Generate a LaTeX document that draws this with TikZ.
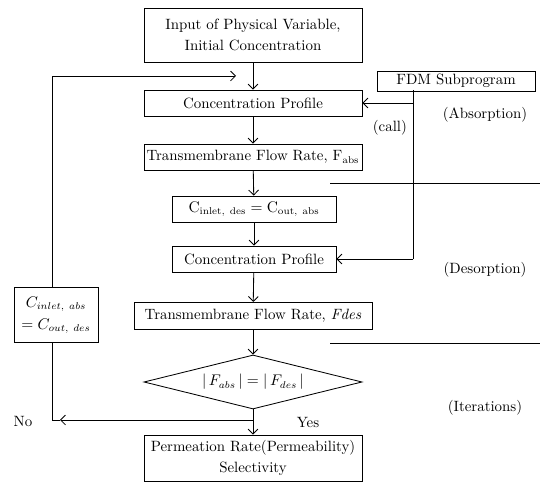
\documentclass[tikz,border=0pt]{standalone}
\usetikzlibrary{shapes.geometric, arrows.meta}
\tikzset{
    procbox/.style={draw, line width=0.6pt, align=center, inner sep=1pt},
    flow/.style={line width=0.6pt, -{Straight Barb[length=3.5pt, width=7pt]}},
    every node/.append style={font=\fontsize{10.6}{12.5}\selectfont},
}
\begin{document}
\begin{tikzpicture}[x=0.025cm, y=-0.025cm, line width=0.6pt]
    \useasboundingbox (0,0) rectangle (540,490);
    % Main column
    \node[procbox, minimum width=5.45cm, minimum height=1.35cm] (input) at (253,35) {Input of Physical Variable,\\[3pt] Initial Concentration};
    \node[procbox, minimum width=5.45cm, minimum height=0.65cm] (profabs) at (253,103) {Concentration Profile};
    \node[procbox, minimum width=5.45cm, minimum height=0.65cm] (flowabs) at (253,157) {Transmembrane Flow Rate, F$_{\mathrm{abs}}$};
    \node[procbox, minimum width=4.1cm, minimum height=0.65cm] (inletdes) at (254,209) {$\mathrm{C}_{\mathrm{inlet,\ des}}=\mathrm{C}_{\mathrm{out,\ abs}}$};
    \node[procbox, minimum width=4.1cm, minimum height=0.65cm] (profdes) at (254,259) {Concentration Profile};
    \node[procbox, minimum width=5.95cm, minimum height=0.68cm] (flowdes) at (253,316) {Transmembrane Flow Rate, \textit{Fdes}};
    \node[draw, diamond, aspect=4, inner sep=0pt, minimum width=5.45cm, minimum height=1.35cm] (check) at (253,382) {$|\,F_{abs}\,| = |\,F_{des}\,|$};
    \node[procbox, minimum width=5.45cm, minimum height=1.15cm] (perm) at (253,458) {Permeation Rate(Permeability)\\[3pt] Selectivity};

    % Subprogram and loop box
    \node[procbox, minimum width=3.95cm, minimum height=0.5cm] (fdm) at (456,81) {FDM Subprogram};
    \node[procbox, minimum width=2.1cm, minimum height=1.37cm] (inletabs) at (56,315) {$C_{inlet,\ abs}$\\[3pt] $=C_{out,\ des}$};

    \draw[flow] (input) -- (profabs);
    \draw[flow] (profabs) -- (flowabs);
    \draw[flow] (flowabs) -- (inletdes);
    \draw[flow] (inletdes) -- (profdes);
    \draw[flow] (profdes) -- (flowdes);
    \draw[flow] (flowdes) -- (check);
    \draw[flow] (check) -- (perm);

    % No branch back to the top
    \coordinate (nojoin) at (253,420);
    \coordinate (noarrow) at (60,420);
    \coordinate (nocorner) at (52,420);
    \coordinate (loopcorner) at (52,76);
    \coordinate (looptip) at (236,76);
    \draw[flow] (nojoin) -- (noarrow);
    \draw (noarrow) -- (nocorner) -- (nocorner |- inletabs.south);
    \draw[flow] (loopcorner |- inletabs.north) -- (loopcorner) -- (looptip);

    % Calls of the subprogram
    \coordinate (calltop) at (413,90);
    \coordinate (callbot) at (413,259);
    \draw (calltop) -- (callbot);
    \draw[flow] (calltop |- profabs) -- (profabs.east);
    \draw[flow] (callbot) -- (profdes.east);

    % Stage separators
    \draw[line width=0.5pt] (330,183) -- (540,183);
    \draw[line width=0.5pt] (330,343) -- (540,343);

    \node[anchor=east] (call) at (412,128) {(call)};
    \node (absorp) at (485,115) {(Absorption)};
    \node (desorp) at (485,270) {(Desorption)};
    \node (iter) at (485,408) {(Iterations)};
    \node (no) at (23,421) {No};
    \node (yes) at (308,422) {Yes};
\end{tikzpicture}
\end{document}
